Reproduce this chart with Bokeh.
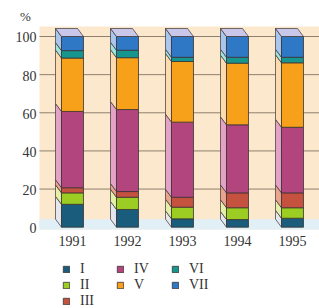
from bokeh.plotting import figure
from bokeh.models import Range1d, Legend, LegendItem, ColumnDataSource
from bokeh.core.properties import value
from bokeh.embed import file_html
from bokeh.resources import INLINE

# ---- data ----
years = ["1991", "1992", "1993", "1994", "1995"]
series = ["I", "II", "III", "IV", "V", "VI", "VII"]
s_I = [12.0, 9.3, 4.4, 4.0, 4.7]
s_II = [6.0, 6.4, 6.1, 6.2, 5.5]
s_III = [2.7, 3.0, 5.2, 7.8, 7.8]
s_IV = [40.0, 43.0, 39.4, 35.7, 34.4]
s_V = [28.0, 27.2, 31.8, 32.3, 33.8]
s_VI = [3.9, 3.9, 2.2, 3.1, 2.9]
s_VII = [7.4, 7.2, 10.9, 10.9, 10.9]
y_ticks = [0, 20, 40, 60, 80, 100]
y_tick_labels = ["0", "20", "40", "60", "80", "100"]
unit_label = "%"

values = [s_I, s_II, s_III, s_IV, s_V, s_VI, s_VII]
front_colors = ["#1a5c7c", "#9ccd22", "#c5523f", "#b3457e", "#f7a01a", "#17958f", "#2f78c6"]
side_colors = ["#e4e8ee", "#e4f0a8", "#eaa48e", "#e3a2c6", "#fcdcae", "#9fe4de", "#a9c6ee"]
top_color = "#c9c8ea"
edge = "#3a3434"
text_color = "#333333"
FONT = value("Liberation Serif")

BAR_W = 0.4
DX = 0.109   # depth offset (x units)
DY = 4.2     # depth offset (percent units)

# visible ranges (x in category units, y in percent)
X0, X1 = -1.309, 4.491
Y0, Y1 = -42.63, 118.88
WALL_LEFT = -0.6       # left edge of the chart wall
WALL_TOP = 105.24      # top edge of the chart wall
FLOOR_BOTTOM = -1.2

p = figure(width=319, height=308, output_backend="svg", toolbar_location=None,
           x_range=Range1d(X0, X1), y_range=Range1d(Y0, Y1),
           x_axis_location=None, y_axis_location=None,
           min_border_left=0, min_border_right=0, min_border_top=0, min_border_bottom=0)
p.outline_line_color = None
p.background_fill_color = "white"
p.border_fill_color = "white"
p.grid.visible = False

xpos = list(range(len(years)))

# wall and floor
p.quad(left=[WALL_LEFT], right=[X1], bottom=[FLOOR_BOTTOM], top=[WALL_TOP],
       fill_color="#fce8cd", line_color=None)
p.quad(left=[WALL_LEFT], right=[X1], bottom=[FLOOR_BOTTOM], top=[DY],
       fill_color="#e1eff6", line_color=None)

# grid lines
gt = [t for t in y_ticks if t > 0]
p.segment(x0=[WALL_LEFT] * len(gt), x1=[X1] * len(gt), y0=gt, y1=gt,
          line_color="#8e7f6e", line_width=1)

# bars
front_renderers = []
cum = [0.0] * len(years)
for k, vals in enumerate(values):
    bottoms = cum[:]
    tops = [b + v for b, v in zip(bottoms, vals)]
    cum = tops
    lefts = [x - BAR_W / 2 for x in xpos]
    rights = [x + BAR_W / 2 for x in xpos]
    side_xs = [[l, l, l - DX, l - DX] for l in lefts]
    side_ys = [[b, t, t + DY, b + DY] for b, t in zip(bottoms, tops)]
    p.patches(xs=side_xs, ys=side_ys, fill_color=side_colors[k], line_color=edge, line_width=0.7)
    src = ColumnDataSource(dict(left=lefts, right=rights, bottom=bottoms, top=tops))
    r = p.quad(left="left", right="right", bottom="bottom", top="top", source=src,
               fill_color=front_colors[k], line_color=edge, line_width=0.8)
    front_renderers.append(r)

# top faces
top_xs = [[x - BAR_W / 2, x + BAR_W / 2, x + BAR_W / 2 - DX, x - BAR_W / 2 - DX] for x in xpos]
top_ys = [[c, c, c + DY, c + DY] for c in cum]
p.patches(xs=top_xs, ys=top_ys, fill_color=top_color, line_color=edge, line_width=0.7)

# y tick labels
p.text(x=[-0.655] * len(y_ticks), y=[t - 0.5 for t in y_ticks], text=y_tick_labels,
       text_align="right", text_baseline="alphabetic", text_font=FONT,
       text_font_size="14px", text_color=text_color)
# unit label
p.text(x=[-0.855], y=[110.5], text=[unit_label], text_align="center", text_baseline="middle",
       text_font=FONT, text_font_size="13px", text_color=text_color)
# x tick labels
p.text(x=xpos, y=[-7.3] * len(xpos), text=years, text_align="center", text_baseline="middle",
       text_font=FONT, text_font_size="14px", text_color=text_color)

# legends (3 columns)
groups = [[0, 1, 2], [3, 4], [5, 6]]
col_x = [62, 116, 171]
PITCH = 16
for g, cx in zip(groups, col_x):
    items = [LegendItem(label=series[i], renderers=[front_renderers[i]]) for i in g]
    leg = Legend(items=items, location=(cx, -1 + PITCH * (3 - len(g))),
                 glyph_width=8, glyph_height=8, label_standoff=10, spacing=-3,
                 label_height=8, padding=0, margin=0,
                 border_line_color=None, background_fill_alpha=0,
                 label_text_font="Liberation Serif", label_text_font_size="14px",
                 label_text_color=text_color)
    p.add_layout(leg)

open("out.html", "w").write(file_html(p, INLINE))
